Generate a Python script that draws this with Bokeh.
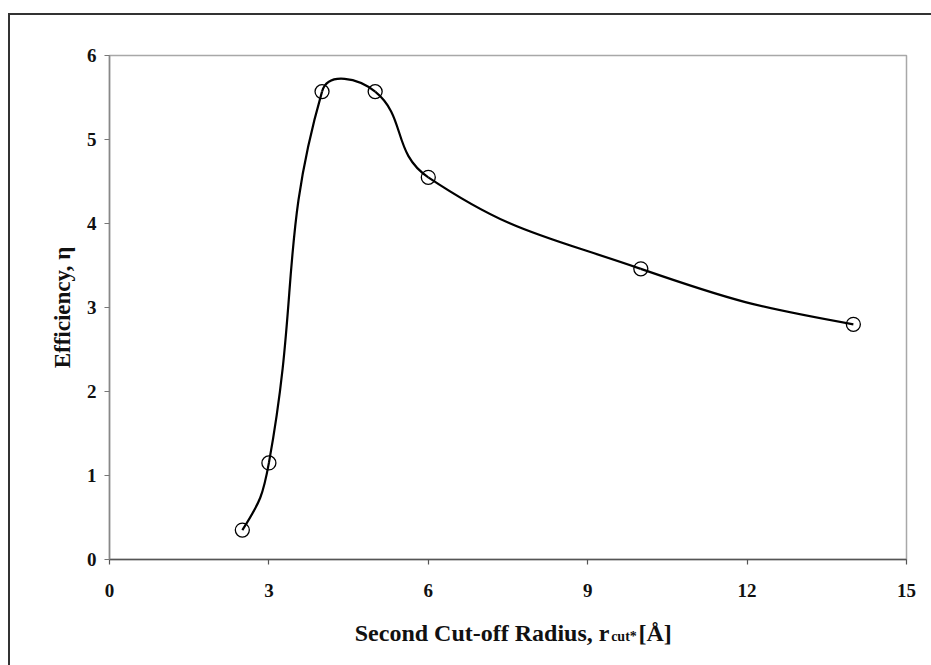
import math
from bokeh.plotting import figure
from bokeh.layouts import column
from bokeh.models import FixedTicker, ColumnDataSource, Range1d
from bokeh.core.properties import value
from bokeh.embed import file_html
from bokeh.resources import INLINE

# ---- data ----
radius = [2.5, 3.0, 4.0, 5.0, 6.0, 10.0, 14.0]
efficiency = [0.35, 1.15, 5.57, 5.57, 4.55, 3.46, 2.80]
x_ticks = [0, 3, 6, 9, 12, 15]
y_ticks = [0, 1, 2, 3, 4, 5, 6]
x_label_main = "Second Cut-off Radius, r"
x_label_sub = "cut*"
x_label_tail = "[Å]"
y_label = "Efficiency, η"

FONT = "Liberation Serif"
X0, X1, Y0, Y1 = 0, 15, 0, 6
FW, FH = 797, 504
LEFT, TOP = 109, 55
W, H = 931, 665
H1 = 605            # main chart
H2 = H - H1         # strip below the chart holding the x-axis title

p = figure(width=W, height=H1, x_range=(X0, X1), y_range=(Y0, Y1),
           frame_width=FW, frame_height=FH,
           min_border_left=LEFT, min_border_top=TOP,
           min_border_right=W - LEFT - FW, min_border_bottom=H1 - TOP - FH,
           output_backend="svg", toolbar_location=None)
p.xgrid.visible = False
p.ygrid.visible = False
p.background_fill_color = "white"
p.border_fill_alpha = 0.0
p.outline_line_color = "#a8a8a8"
p.outline_line_width = 1.5

for ax, ticks in ((p.xaxis[0], x_ticks), (p.yaxis[0], y_ticks)):
    ax.ticker = FixedTicker(ticks=ticks)
    ax.minor_tick_line_color = None
    ax.major_tick_in = 0
    ax.major_tick_out = 5
    ax.major_label_text_font = FONT
    ax.major_label_text_font_style = "bold"
    ax.major_label_text_font_size = "19px"
    ax.major_label_text_color = "#111111"
    ax.axis_line_width = 1.5
    ax.major_tick_line_width = 1.2

p.xaxis.axis_line_color = "#555555"
p.xaxis.major_tick_line_color = "#555555"
p.yaxis.axis_line_color = "#888888"
p.yaxis.major_tick_line_color = "#777777"
p.xaxis.major_label_standoff = 19
p.yaxis.major_label_standoff = 8

p.yaxis.axis_label = y_label
p.yaxis.axis_label_text_font = FONT
p.yaxis.axis_label_text_font_style = "bold"
p.yaxis.axis_label_text_font_size = "23px"
p.yaxis.axis_label_text_color = "#111111"
p.yaxis.axis_label_standoff = 9

# ---- smoothed curve (Bezier segments through the data points) ----
sx = FW / (X1 - X0)
sy = FH / (Y1 - Y0)
P = [(x * sx, y * sy) for x, y in zip(radius, efficiency)]
n = len(P)
k = 0.45


def dist(a, b):
    return math.hypot(a[0] - b[0], a[1] - b[1])


def tangent(i):
    if 0 < i < n - 1:
        return (P[i + 1][0] - P[i - 1][0], P[i + 1][1] - P[i - 1][1])
    j = 1 if i == 0 else n - 2
    sgn = 1 if i == 0 else -1
    chord = (sgn * (P[j][0] - P[i][0]), sgn * (P[j][1] - P[i][1]))
    tj = tangent(j)
    lc, lt = math.hypot(*chord), math.hypot(*tj)
    tj = (tj[0] * lc / lt, tj[1] * lc / lt)
    return (2 * chord[0] - tj[0], 2 * chord[1] - tj[1])


x0s, y0s, x1s, y1s, cx0, cy0, cx1, cy1 = [], [], [], [], [], [], [], []
for i in range(n - 1):
    d1 = dist(P[i + 1], P[i])
    f0 = k * d1 / (dist(P[i], P[i - 1]) + d1) if i > 0 else k
    f1 = k * d1 / (d1 + dist(P[i + 2], P[i + 1])) if i + 2 < n else k
    t0, t1 = tangent(i), tangent(i + 1)
    c0 = (P[i][0] + t0[0] * f0, P[i][1] + t0[1] * f0)
    c1 = (P[i + 1][0] - t1[0] * f1, P[i + 1][1] - t1[1] * f1)
    x0s.append(radius[i]); y0s.append(efficiency[i])
    x1s.append(radius[i + 1]); y1s.append(efficiency[i + 1])
    cx0.append(c0[0] / sx); cy0.append(c0[1] / sy)
    cx1.append(c1[0] / sx); cy1.append(c1[1] / sy)

seg = ColumnDataSource(dict(x0=x0s, y0=y0s, x1=x1s, y1=y1s,
                            cx0=cx0, cy0=cy0, cx1=cx1, cy1=cy1))
p.bezier(x0="x0", y0="y0", x1="x1", y1="y1", cx0="cx0", cy0="cy0",
         cx1="cx1", cy1="cy1", source=seg, line_color="black", line_width=2.2)

pts = ColumnDataSource(dict(x=radius, y=efficiency))
p.scatter("x", "y", source=pts, marker="circle", size=14,
          fill_color="white", fill_alpha=0.0, line_color="black", line_width=1.3)

# ---- strip with the x-axis title (r with subscript "cut*") ----
p2 = figure(width=W, height=H2, x_range=Range1d(0, W), y_range=Range1d(H2, 0),
            min_border=0, x_axis_type=None, y_axis_type=None, title=None,
            output_backend="svg", toolbar_location=None)
p2.grid.visible = False
p2.outline_line_color = None
p2.background_fill_alpha = 0.0
p2.border_fill_alpha = 0.0

junction = 584
base = 632 - H1
txt = dict(text_font=value(FONT), text_font_style="bold", text_color="#111111",
           text_baseline="alphabetic")
p2.text(x=[junction], y=[base], text=[x_label_main], text_align="right",
        text_font_size="24px", **txt)
p2.text(x=[junction + 2], y=[base + 4], text=[x_label_sub], text_align="left",
        text_font_size="14px", **txt)
p2.text(x=[junction + 34], y=[base], text=[x_label_tail], text_align="left",
        text_font_size="24px", **txt)

layout = column(p, p2, spacing=0)
# scanned page frame: top and left edges
layout.styles = {
    "background": ("linear-gradient(#333,#333) 8px 13px / 923px 2px no-repeat, "
                   "linear-gradient(#333,#333) 8px 13px / 2px 652px no-repeat, white"),
}

open("out.html", "w").write(file_html(layout, INLINE))
